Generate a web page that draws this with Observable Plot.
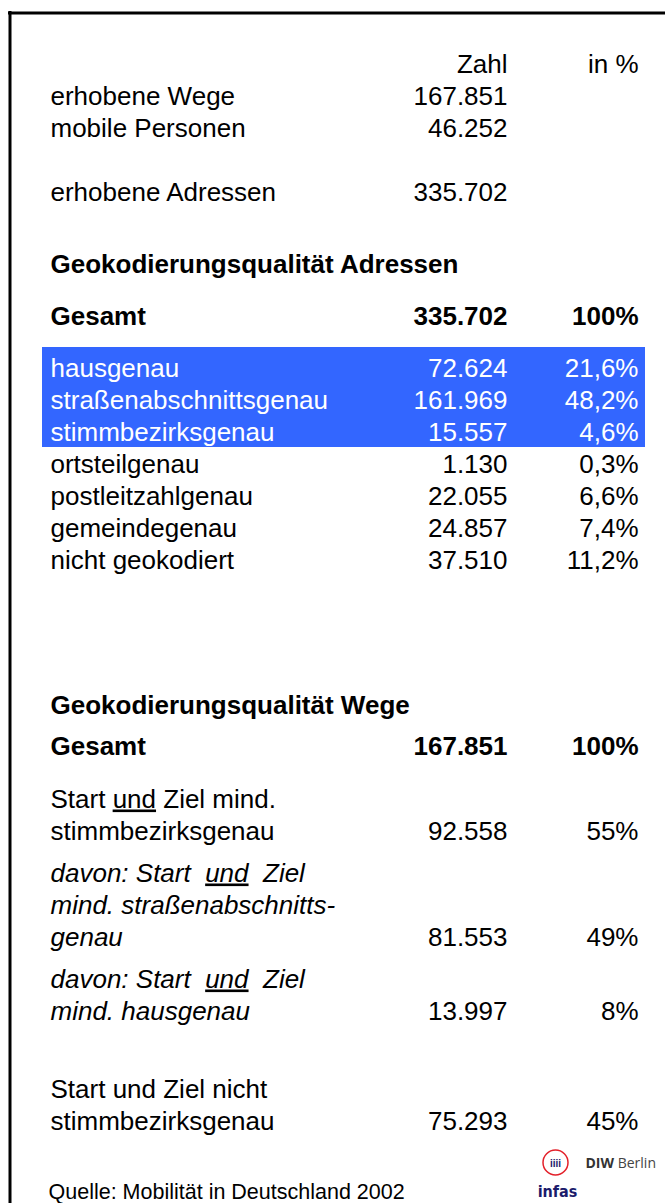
<!DOCTYPE html>
<html><head><meta charset="utf-8">
<script src="https://cdn.jsdelivr.net/npm/d3@7"></script>
<script src="https://cdn.jsdelivr.net/npm/@observablehq/plot@0.6"></script>
<style>html,body{margin:0;padding:0;background:#fff;} svg{display:block;}</style>
</head><body><div id="chart"></div>
<script>
// ---------------- data ----------------
const headerLabels = ["Zahl", "in %"];
const overviewLabels = ["erhobene Wege", "mobile Personen", "erhobene Adressen"];
const overviewValues = [167851, 46252, 335702];

const addressTitle = "Geokodierungsqualität Adressen";
const totalLabel = "Gesamt";
const addressTotal = 335702;
const addressTotalPct = 100;
const addressCategories = ["hausgenau", "straßenabschnittsgenau", "stimmbezirksgenau", "ortsteilgenau", "postleitzahlgenau", "gemeindegenau", "nicht geokodiert"];
const addressValues = [72624, 161969, 15557, 1130, 22055, 24857, 37510];
const addressPercents = [21.6, 48.2, 4.6, 0.3, 6.6, 7.4, 11.2];
const addressHighlight = [true, true, true, false, false, false, false];

const tripTitle = "Geokodierungsqualität Wege";
const tripTotal = 167851;
const tripTotalPct = 100;
const tripCategories = [
  ["Start _und_ Ziel mind.", "stimmbezirksgenau"],
  ["davon: Start\u00a0 _und_\u00a0 Ziel", "mind. straßenabschnitts-", "genau"],
  ["davon: Start\u00a0 _und_\u00a0 Ziel", "mind. hausgenau"],
  ["Start und Ziel nicht", "stimmbezirksgenau"]
];
const tripItalic = [false, true, true, false];
const tripValues = [92558, 81553, 13997, 75293];
const tripPercents = [55, 49, 8, 45];

const sourceNote = "Quelle: Mobilität in Deutschland 2002";
const logoTexts = ["*DIW* Berlin", "infas"];

// ---------------- layout ----------------
const W = 665, H = 1203;
const FONT = "'Liberation Sans', Arial, Helvetica, sans-serif";
const FS = 26;
const colX = {label: 50, zahl: 507, pct: 638};
const layout = {
  header: 72,
  overview: [104, 136, 200],
  addressTitle: 272,
  addressTotal: 324,
  addressRows: [376, 408, 440, 472, 504, 536, 568],
  tripTitle: 713,
  tripTotal: 754,
  tripRows: [[807, 839], [881, 913, 945], [987, 1019], [1097, 1129]],
  source: 1198
};
const band = {x1: 42, x2: 645, above: 29, below: 7, fill: "#3366ff"};

// ---------------- formatting ----------------
const de = d3.formatLocale({decimal: ",", thousands: ".", grouping: [3], currency: ["", " €"]});
const fmtInt = de.format(",d");
const fmtPct1 = v => de.format(".1f")(v) + "%";
const fmtPct0 = v => de.format("d")(v) + "%";

// ---------------- build cells ----------------
const cells = [];
function cell(col, y, text, o = {}) {
  cells.push({col, y, text, weight: o.weight || "normal", style: o.style || "normal", fill: o.fill || "#000", size: o.size || FS});
}
cell("zahl", layout.header, headerLabels[0]);
cell("pct", layout.header, headerLabels[1]);
overviewLabels.forEach((l, i) => {
  cell("label", layout.overview[i], l);
  cell("zahl", layout.overview[i], fmtInt(overviewValues[i]));
});
cell("label", layout.addressTitle, addressTitle, {weight: "bold"});
cell("label", layout.addressTotal, totalLabel, {weight: "bold"});
cell("zahl", layout.addressTotal, fmtInt(addressTotal), {weight: "bold"});
cell("pct", layout.addressTotal, fmtPct0(addressTotalPct), {weight: "bold"});
addressCategories.forEach((c, i) => {
  const y = layout.addressRows[i];
  const fill = addressHighlight[i] ? "#fff" : "#000";
  cell("label", y, c, {fill});
  cell("zahl", y, fmtInt(addressValues[i]), {fill});
  cell("pct", y, fmtPct1(addressPercents[i]), {fill});
});
cell("label", layout.tripTitle, tripTitle, {weight: "bold"});
cell("label", layout.tripTotal, totalLabel, {weight: "bold"});
cell("zahl", layout.tripTotal, fmtInt(tripTotal), {weight: "bold"});
cell("pct", layout.tripTotal, fmtPct0(tripTotalPct), {weight: "bold"});
tripCategories.forEach((lines, i) => {
  const ys = layout.tripRows[i];
  const style = tripItalic[i] ? "italic" : "normal";
  lines.forEach((l, j) => cell("label", ys[j], l, {style}));
  const yl = ys[ys.length - 1];
  cell("zahl", yl, fmtInt(tripValues[i]));
  cell("pct", yl, fmtPct0(tripPercents[i]));
});

// highlight band from highlighted rows
const hlY = layout.addressRows.filter((y, i) => addressHighlight[i]);
const bands = [{x1: band.x1, x2: band.x2, y1: d3.min(hlY) - band.above, y2: d3.max(hlY) + band.below}];

// group text cells by style
const groups = d3.groups(cells, d => [d.col === "label" ? "start" : "end", d.weight, d.style, d.fill, d.size].join("|"));
const textMarks = groups.map(([key, rows]) => {
  const [anchor, weight, style, fill, size] = key.split("|");
  return Plot.text(rows, {
    x: d => colX[d.col], y: "y", text: "text",
    textAnchor: anchor, lineAnchor: "bottom",
    fontFamily: FONT, fontSize: +size, fontWeight: weight, fontStyle: style, fill
  });
});

const plot = Plot.plot({
  width: W, height: H,
  margin: 0, marginTop: 0, marginRight: 0, marginBottom: 0, marginLeft: 0,
  x: {domain: [0, W], range: [0, W], axis: null},
  y: {domain: [0, H], range: [0, H], axis: null},
  style: {background: "#fff", fontFamily: FONT, overflow: "hidden"},
  marks: [
    Plot.rect(bands, {x1: "x1", x2: "x2", y1: "y1", y2: "y2", fill: band.fill}),
    Plot.ruleX([9.5], {y1: 11, y2: H, stroke: "#000", strokeWidth: 3}),
    Plot.ruleY([12.5], {x1: 8, x2: W, stroke: "#000", strokeWidth: 3}),
    ...textMarks,
    Plot.text([sourceNote], {x: () => colX.label - 2, y: () => layout.source, text: d => d, textAnchor: "start", lineAnchor: "bottom", fontFamily: FONT, fontSize: 21.5, fill: "#000"}),
    // logos
    Plot.dot([0], {x: () => 555, y: () => 1162, r: 12.5, stroke: "#e3202a", strokeWidth: 1.5, fill: "none"}),
    Plot.text(["iiii"], {x: () => 555, y: () => 1166, text: d => d, textAnchor: "middle", lineAnchor: "bottom", fontFamily: FONT, fontWeight: "bold", fontSize: 10, fill: "#1b1b6b"}),
    Plot.text([logoTexts[1]], {x: () => 557, y: () => 1196, text: d => d, textAnchor: "middle", lineAnchor: "bottom", fontFamily: "'Liberation Sans Narrow', 'DejaVu Sans Condensed', sans-serif", fontWeight: "bold", fontSize: 16, fill: "#1b1b6b"}),
    Plot.text([logoTexts[0]], {x: () => 585, y: () => 1167, text: d => d, textAnchor: "start", lineAnchor: "bottom", fontFamily: "'Open Sans', 'DejaVu Sans', sans-serif", fontSize: 14, fill: "#444"})
  ]
});

// inline markup: _underline_ and *bold*
d3.select(plot).selectAll("text").each(function () {
  const t = this.textContent;
  if (!/[_*]/.test(t)) return;
  const parts = t.split(/([_*][^_*]+[_*])/).filter(p => p.length);
  this.textContent = "";
  for (const p of parts) {
    const ts = document.createElementNS("http://www.w3.org/2000/svg", "tspan");
    if (p.startsWith("_") && p.endsWith("_")) { ts.textContent = p.slice(1, -1); ts.setAttribute("text-decoration", "underline"); ts.style.textDecoration = "underline"; }
    else if (p.startsWith("*") && p.endsWith("*")) { ts.textContent = p.slice(1, -1); ts.setAttribute("font-weight", "bold"); ts.setAttribute("fill", "#333"); }
    else ts.textContent = p;
    this.appendChild(ts);
  }
});

document.getElementById("chart").appendChild(plot);
</script>
</body></html>
